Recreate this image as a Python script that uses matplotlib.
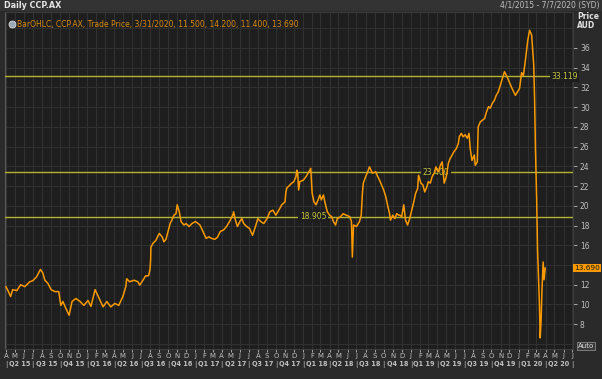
import numpy as np
import pandas as pd
import matplotlib
matplotlib.use("Agg")
import matplotlib.pyplot as plt
import matplotlib.dates as mdates
import matplotlib.transforms as mtrans

# price readings (date, close)
dates = [
    "2015-04-01", "2015-04-08", "2015-04-17", "2015-04-24", "2015-05-08", "2015-05-21",
    "2015-06-04", "2015-06-21", "2015-07-01", "2015-07-14", "2015-07-27", "2015-08-04",
    "2015-08-11", "2015-08-21", "2015-09-01", "2015-09-14", "2015-09-27", "2015-10-04",
    "2015-10-11", "2015-10-21", "2015-11-01", "2015-11-11", "2015-11-24", "2015-12-08",
    "2015-12-21", "2016-01-04", "2016-01-14", "2016-01-28", "2016-02-14", "2016-02-24",
    "2016-03-08", "2016-03-21", "2016-04-04", "2016-04-17", "2016-05-01", "2016-05-11",
    "2016-05-14", "2016-05-24", "2016-06-08", "2016-06-21", "2016-06-27", "2016-07-08",
    "2016-07-17", "2016-07-27", "2016-08-01", "2016-08-03", "2016-08-04", "2016-08-11",
    "2016-08-21", "2016-09-01", "2016-09-11", "2016-09-17", "2016-09-24", "2016-10-01",
    "2016-10-08", "2016-10-14", "2016-10-21", "2016-10-28", "2016-11-01", "2016-11-08",
    "2016-11-14", "2016-11-24", "2016-12-01", "2016-12-11", "2016-12-21", "2017-01-02",
    "2017-01-11", "2017-01-17", "2017-01-27", "2017-02-07", "2017-02-16", "2017-02-25",
    "2017-03-08", "2017-03-17", "2017-03-27", "2017-04-07", "2017-04-17", "2017-04-27",
    "2017-05-08", "2017-05-11", "2017-05-17", "2017-05-24", "2017-06-01", "2017-06-08",
    "2017-06-14", "2017-06-24", "2017-07-04", "2017-07-14", "2017-07-24", "2017-08-01",
    "2017-08-11", "2017-08-21", "2017-09-01", "2017-09-11", "2017-09-21", "2017-10-01",
    "2017-10-11", "2017-10-21", "2017-11-01", "2017-11-04", "2017-11-07", "2017-11-17",
    "2017-11-24", "2017-12-01", "2017-12-08", "2017-12-11", "2017-12-14", "2017-12-17",
    "2017-12-21", "2018-01-02", "2018-01-11", "2018-01-21", "2018-01-27", "2018-02-01",
    "2018-02-07", "2018-02-14", "2018-02-21", "2018-02-27", "2018-03-04", "2018-03-11",
    "2018-03-17", "2018-03-24", "2018-04-01", "2018-04-08", "2018-04-14", "2018-04-21",
    "2018-04-27", "2018-05-08", "2018-05-17", "2018-05-27", "2018-06-08", "2018-06-14",
    "2018-06-17", "2018-06-21", "2018-07-01", "2018-07-11", "2018-07-17", "2018-07-21",
    "2018-07-24", "2018-08-01", "2018-08-08", "2018-08-14", "2018-08-24", "2018-09-04",
    "2018-09-11", "2018-09-17", "2018-09-24", "2018-10-01", "2018-10-08", "2018-10-14",
    "2018-10-21", "2018-10-24", "2018-11-01", "2018-11-08", "2018-11-14", "2018-11-21",
    "2018-11-24", "2018-12-01", "2018-12-08", "2018-12-14", "2018-12-21", "2018-12-28",
    "2019-01-04", "2019-01-11", "2019-01-17", "2019-01-24", "2019-01-27", "2019-02-04",
    "2019-02-11", "2019-02-17", "2019-02-24", "2019-03-01", "2019-03-08", "2019-03-14",
    "2019-03-21", "2019-03-27", "2019-04-04", "2019-04-11", "2019-04-17", "2019-04-24",
    "2019-05-01", "2019-05-08", "2019-05-14", "2019-05-21", "2019-05-27", "2019-06-04",
    "2019-06-11", "2019-06-14", "2019-06-21", "2019-06-27", "2019-07-04", "2019-07-11",
    "2019-07-17", "2019-07-21", "2019-07-27", "2019-08-04", "2019-08-07", "2019-08-14",
    "2019-08-17", "2019-08-24", "2019-09-01", "2019-09-08", "2019-09-14", "2019-09-21",
    "2019-09-27", "2019-10-04", "2019-10-11", "2019-10-17", "2019-10-24", "2019-11-14",
    "2019-11-24", "2019-12-08", "2019-12-21", "2020-01-04", "2020-01-11", "2020-01-17",
    "2020-01-24", "2020-02-01", "2020-02-07", "2020-02-14", "2020-02-21", "2020-02-24",
    "2020-02-27", "2020-03-02", "2020-03-05", "2020-03-11", "2020-03-14", "2020-03-17",
    "2020-03-20", "2020-03-24", "2020-03-27", "2020-03-31",
]
prices = [
    11.8, 11.4, 10.8, 11.5, 11.4, 12.0,
    11.8, 12.3, 12.4, 12.8, 13.55, 13.2,
    12.45, 12.15, 11.5, 11.3, 11.3, 9.9,
    10.3, 9.6, 8.9, 10.3, 10.6, 10.3,
    9.9, 10.4, 9.8, 11.5, 10.4, 9.75,
    10.3, 9.75, 10.1, 9.9, 10.8, 11.8,
    12.6, 12.3, 12.45, 12.3, 11.95, 12.45,
    12.9, 12.9, 13.55, 14.5, 15.8, 16.2,
    16.5, 17.2, 16.85, 16.35, 16.6, 17.4,
    18.2, 18.55, 19.05, 19.2, 20.1, 19.4,
    18.4, 18.05, 18.2, 17.9, 18.2, 18.4,
    18.2, 18.05, 17.4, 16.7, 16.85, 16.7,
    16.6, 16.8, 17.4, 17.55, 17.9, 18.4,
    19.05, 19.4, 18.55, 17.9, 18.4, 18.7,
    18.2, 17.9, 17.7, 17.0, 17.9, 18.7,
    18.4, 18.2, 18.7, 19.4, 19.55, 19.05,
    19.55, 20.1, 20.4, 21.4, 21.8, 22.1,
    22.3, 22.45, 22.95, 23.6, 23.3, 21.6,
    22.45, 22.6, 22.95, 23.45, 23.8, 21.25,
    20.4, 20.1, 20.6, 21.1, 20.6, 21.1,
    20.25, 19.4, 19.05, 18.9, 18.4, 18.05,
    18.7, 18.9, 19.2, 19.05, 18.9, 18.4,
    14.8, 18.05, 17.9, 18.4, 19.05, 21.25,
    22.3, 22.95, 23.45, 23.95, 23.3, 23.45,
    22.95, 22.6, 22.1, 21.6, 20.95, 20.1,
    19.2, 18.55, 19.05, 18.7, 19.2, 19.05,
    19.05, 18.9, 20.1, 18.55, 18.05, 18.7,
    19.55, 20.4, 21.25, 21.75, 23.1, 22.3,
    22.1, 21.4, 21.9, 22.45, 22.3, 22.95,
    23.3, 23.95, 23.45, 24.1, 24.45, 22.3,
    22.95, 24.3, 24.8, 25.15, 25.5, 25.8,
    26.35, 27.0, 27.35, 27.0, 27.2, 26.85,
    27.35, 25.8, 24.6, 25.15, 24.1, 24.45,
    28.0, 28.5, 28.7, 28.85, 29.5, 30.05,
    29.9, 30.4, 30.7, 31.2, 31.55, 33.6,
    33.0, 32.0, 31.2, 31.9, 33.5, 33.2,
    34.8, 36.8, 37.8, 37.3, 34.3, 30.7,
    25.6, 20.6, 15.5, 10.4, 6.6, 8.4,
    11.5, 14.3, 12.5, 13.69,
]

levels = [33.119, 23.4, 18.905]
level_labels = ["33.119", "23.400", "18.905"]
level_label_dates = ["2020-04-21", "2019-02-10", "2017-12-21"]

quarters = ["Q2 15", "Q3 15", "Q4 15", "Q1 16", "Q2 16", "Q3 16", "Q4 16",
            "Q1 17", "Q2 17", "Q3 17", "Q4 17", "Q1 18", "Q2 18", "Q3 18",
            "Q4 18", "Q1 19", "Q2 19", "Q3 19", "Q4 19", "Q1 20", "Q2 20"]
y_ticks = [8, 10, 12, 16, 18, 20, 22, 24, 26, 28, 30, 32, 34, 36]  # 14 sits under the price box
last_price = "13.690"

BG = "#2a2a2a"
PLOT_BG = "#1e1e1e"
GRID = "#323232"
TXT = "#c0c0c0"
ORANGE = "#fa9a00"
YEL = "#b4b432"

x = pd.to_datetime(dates)
fig = plt.figure(figsize=(6.02, 3.79), dpi=100, facecolor=BG)
ax = fig.add_axes([5 / 602, 1 - 349 / 379, 568 / 602, 337 / 379], facecolor=PLOT_BG)

ax.plot(x, prices, color=ORANGE, lw=1.1, zorder=5)

for lv, lab, ld in zip(levels, level_labels, level_label_dates):
    ax.axhline(lv, color=YEL, lw=1.0, zorder=3)
    ax.text(pd.Timestamp(ld), lv, lab, color="#c8c840", fontsize=5.5, va="center",
            ha="left", zorder=4,
            bbox=dict(facecolor=PLOT_BG, edgecolor="none", pad=1.0))

ax.set_xlim(pd.Timestamp("2015-03-29"), pd.Timestamp("2020-07-03"))
ax.set_ylim(5.48, 39.65)

# monthly ticks, single letter labels
ax.xaxis.set_major_locator(mdates.MonthLocator())
ax.xaxis.set_major_formatter(plt.FuncFormatter(lambda v, p: mdates.num2date(v).strftime("%b")[0]))
ax.tick_params(axis="x", colors=TXT, labelsize=5, length=2, pad=1, width=0.6)
ax.yaxis.tick_right()
ax.set_yticks(y_ticks)
ax.set_yticks(np.arange(6, 40, 2), minor=True)
ax.tick_params(axis="y", colors=TXT, labelsize=5.5, length=3, pad=2, width=0.6)
ax.tick_params(axis="y", which="minor", length=0)
ax.grid(True, which="major", axis="x", color=GRID, lw=0.7)
ax.grid(True, which="major", axis="y", color=GRID, lw=0.7)
ax.grid(True, which="minor", axis="y", color=GRID, lw=0.7)
for s in ax.spines.values():
    s.set_color("#3c3c3c")
    s.set_linewidth(0.8)
ax.spines["left"].set_color("#5a5a5a")

# quarter strip
tr = mtrans.blended_transform_factory(ax.transData, ax.transAxes)
qstarts = pd.date_range("2015-04-01", periods=len(quarters) + 1, freq="QS")
for i, q in enumerate(quarters):
    mid = qstarts[i] + (qstarts[i + 1] - qstarts[i]) / 2
    ax.text(mid, -0.045, q, transform=tr, ha="center", va="center",
            color=TXT, fontsize=4.7, fontweight="bold", clip_on=False)
for d in qstarts:
    ax.text(d, -0.045, "|", transform=tr, ha="center", va="center",
            color=TXT, fontsize=4.7, clip_on=False)

# last price box on the axis
tr2 = mtrans.blended_transform_factory(ax.transAxes, ax.transData)
ax.text(1.002, prices[-1], last_price, transform=tr2, ha="left", va="center",
        fontsize=5.3, color="#1a1a1a", clip_on=False, zorder=10,
        bbox=dict(facecolor=ORANGE, edgecolor="none", pad=0.8))

# header and decorations
fig.patches.append(plt.Rectangle((0, 1 - 11 / 379), 1, 11 / 379, transform=fig.transFigure,
                                 facecolor="#333333", edgecolor="none", zorder=0))
fig.text(4 / 602, 1 - 5.5 / 379, "Daily CCP.AX", color="#e6e6e6", fontsize=5.8,
         fontweight="bold", va="center", ha="left")
fig.text(600 / 602, 1 - 5.5 / 379, "4/1/2015 - 7/7/2020 (SYD)", color=TXT, fontsize=5.5,
         va="center", ha="right")
fig.text(577 / 602, 1 - 16.5 / 379, "Price", color="#e0e0e0", fontsize=5.5,
         fontweight="bold", va="center", ha="left")
fig.text(577 / 602, 1 - 25 / 379, "AUD", color="#e0e0e0", fontsize=5.5,
         fontweight="bold", va="center", ha="left")
ax.plot([0.013], [0.963], transform=ax.transAxes, marker="o", ms=5,
        color="#9aa8b8", mec="#dddddd", mew=0.6, clip_on=False, zorder=10)
ax.text(0.022, 0.963, "BarOHLC, CCP.AX, Trade Price, 3/31/2020, 11.500, 14.200, 11.400, 13.690",
        transform=ax.transAxes, color="#d88a10", fontsize=5.5, va="center", ha="left", zorder=10)
fig.text(586 / 602, 1 - 346 / 379, "Auto", color="#e0e0e0", fontsize=5, ha="center",
         va="center", bbox=dict(facecolor="#3a3a3a", edgecolor="#888888", lw=0.6, pad=0.8))

fig.savefig("out.png", dpi=100, facecolor=BG)
